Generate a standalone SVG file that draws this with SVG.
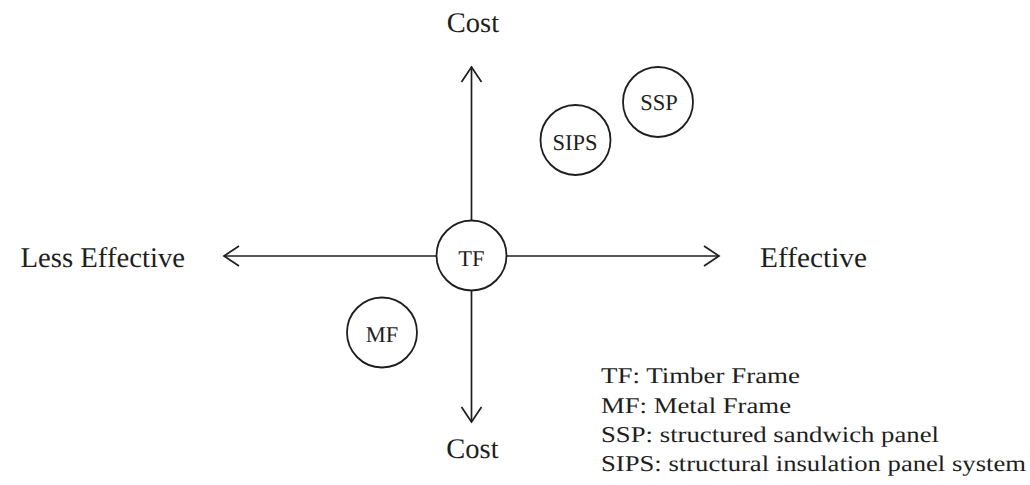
<svg xmlns="http://www.w3.org/2000/svg" width="1030" height="485" viewBox="0 0 1030 485">
  <style>
    text { text-rendering: geometricPrecision; font-family: "Liberation Serif", "Times New Roman", serif; fill: #1e1e1e; }
    .axis { fill: none; stroke: #1e1e1e; stroke-width: 1.7; }
    .node circle { fill: #ffffff; stroke: #1e1e1e; stroke-width: 1.8; }
    .node text { font-size: 22.5px; text-anchor: middle; }
    .label { font-size: 28.5px; }
    .legend { font-size: 22.5px; }
  </style>
  <defs>
    <marker id="chev" viewBox="-17 -12 19 24" refX="0" refY="0" markerWidth="19" markerHeight="24" markerUnits="userSpaceOnUse" orient="auto">
      <path d="M-15,-10 L0,0 L-15,10" fill="none" stroke="#1e1e1e" stroke-width="1.7"/>
    </marker>
  </defs>
  <rect width="1030" height="485" fill="#ffffff"/>

  <g id="connectors">
    <path class="axis" d="M471.5,256 L471.5,67" marker-end="url(#chev)"/>
    <path class="axis" d="M471.5,256 L471.5,422" marker-end="url(#chev)"/>
    <path class="axis" d="M471.5,256 L224,256" marker-end="url(#chev)"/>
    <path class="axis" d="M471.5,256 L719,256" marker-end="url(#chev)"/>
  </g>

  <g id="axis-labels">
    <text class="label" x="473" y="31.5" text-anchor="middle">Cost</text>
    <text class="label" x="472.5" y="458" text-anchor="middle">Cost</text>
    <text class="label" x="20.5" y="266.5" textLength="164.5" lengthAdjust="spacingAndGlyphs">Less Effective</text>
    <text class="label" x="760" y="266.5" textLength="107" lengthAdjust="spacingAndGlyphs">Effective</text>
  </g>

  <g id="node-TF" class="node">
    <circle cx="471.5" cy="255.5" r="35"/>
    <text x="471.5" y="266">TF</text>
  </g>
  <g id="node-SIPS" class="node">
    <circle cx="575.5" cy="140" r="35"/>
    <text x="575" y="150">SIPS</text>
  </g>
  <g id="node-SSP" class="node">
    <circle cx="658" cy="102" r="35"/>
    <text x="659" y="109.5">SSP</text>
  </g>
  <g id="node-MF" class="node">
    <circle cx="382" cy="332.5" r="35"/>
    <text x="382" y="342">MF</text>
  </g>

  <g id="legend">
    <text class="legend" x="601" y="383" textLength="199" lengthAdjust="spacingAndGlyphs">TF: Timber Frame</text>
    <text class="legend" x="601" y="412.5" textLength="190" lengthAdjust="spacingAndGlyphs">MF: Metal Frame</text>
    <text class="legend" x="601" y="442" textLength="338" lengthAdjust="spacingAndGlyphs">SSP: structured sandwich panel</text>
    <text class="legend" x="601" y="471" textLength="425" lengthAdjust="spacingAndGlyphs">SIPS: structural insulation panel system</text>
  </g>
</svg>
